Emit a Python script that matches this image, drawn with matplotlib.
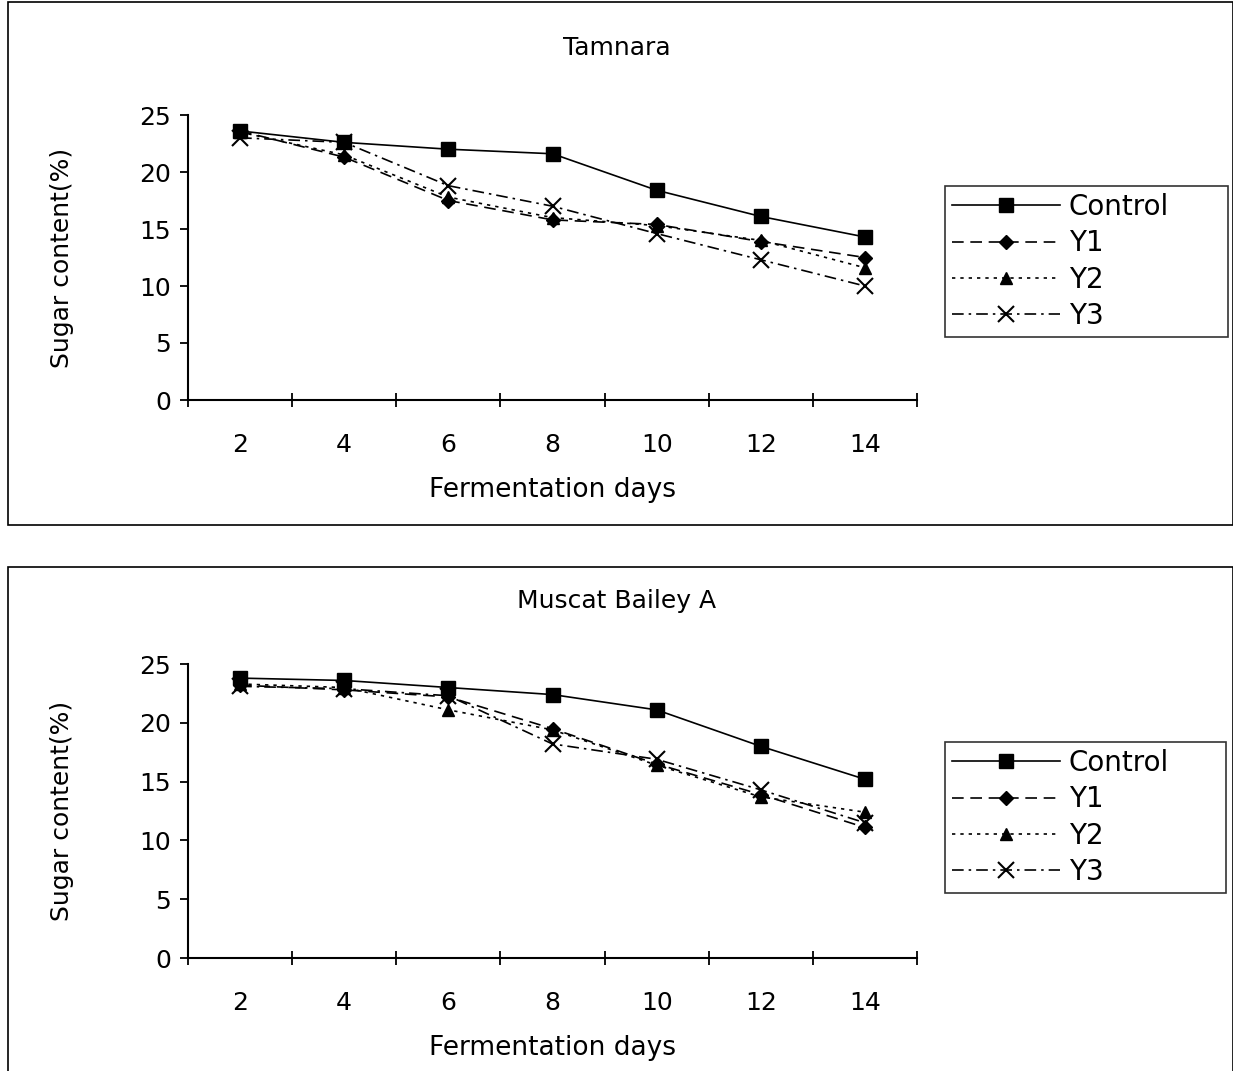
import numpy as np
import matplotlib.pyplot as plt
from matplotlib.patches import Rectangle

plt.rcParams['font.family'] = ['DejaVu Sans']

# data
days = [2, 4, 6, 8, 10, 12, 14]
series_names = ["Control", "Y1", "Y2", "Y3"]

tamnara_control = [23.6, 22.6, 22.0, 21.6, 18.4, 16.1, 14.3]
tamnara_y1 = [23.6, 21.3, 17.5, 15.8, 15.4, 13.9, 12.5]
tamnara_y2 = [23.5, 21.5, 17.8, 16.0, 15.3, 14.0, 11.6]
tamnara_y3 = [23.0, 22.6, 18.8, 17.0, 14.6, 12.3, 10.0]

mba_control = [23.8, 23.6, 23.0, 22.4, 21.1, 18.0, 15.2]
mba_y1 = [23.2, 22.8, 22.2, 19.5, 16.5, 13.9, 11.1]
mba_y2 = [23.3, 23.0, 21.1, 19.4, 16.4, 13.7, 12.4]
mba_y3 = [23.1, 22.9, 22.3, 18.2, 16.9, 14.3, 11.5]

styles = [
    dict(ls="-", marker="s", ms=10),
    dict(ls=(0, (7, 4)), marker="D", ms=7),
    dict(ls=(0, (2, 3)), marker="^", ms=9),
    dict(ls=(0, (7, 3, 1.5, 3)), marker="x", ms=11, mew=1.5),
]

W, H = 1233, 1071
fig = plt.figure(figsize=(W / 100, H / 100), dpi=100)


def px_axes(left, top, right, bottom):
    return fig.add_axes([left / W, 1 - bottom / H, (right - left) / W, (bottom - top) / H])


def panel(ax, title, data, title_y, leg_px):
    x = np.arange(len(days))
    for vals, name, st in zip(data, series_names, styles):
        ax.plot(x, vals, color="black", lw=1.2, label=name, **st)
    ax.set_xlim(-0.5, len(days) - 0.5)
    ax.set_ylim(0, 25)
    ax.set_yticks([0, 5, 10, 15, 20, 25])
    ax.set_xticks(np.arange(len(days) + 1) - 0.5)
    ax.set_xticklabels([])
    ax.set_xticks(x, minor=True)
    ax.set_xticklabels([str(d) for d in days], minor=True)
    ax.tick_params(axis="x", which="minor", length=0, pad=24, labelsize=18)
    ax.tick_params(axis="x", which="major", direction="inout", length=10, width=1.3)
    ax.tick_params(axis="y", direction="out", length=6, width=1.3, pad=6, labelsize=18)
    for s in ["top", "right"]:
        ax.spines[s].set_visible(False)
    for s in ["left", "bottom"]:
        ax.spines[s].set_linewidth(1.5)
    ax.set_xlabel("Fermentation days", fontsize=19, labelpad=14)
    ax.set_ylabel("Sugar content(%)", fontsize=18)
    ax.yaxis.set_label_coords((74 - 188) / 729, 0.5)
    fig.text(617 / W, 1 - title_y / H, title, ha="center", va="center", fontsize=18)
    l, t, r, b = leg_px
    leg = ax.legend(loc="upper left", bbox_to_anchor=(l / W, 1 - b / H, (r - l) / W, (b - t) / H),
                    bbox_transform=fig.transFigure, mode="expand", borderaxespad=0,
                    frameon=True, fancybox=False, edgecolor="black", fontsize=20,
                    handlelength=3.9, borderpad=0.25, labelspacing=0.3, handletextpad=0.3)
    leg.get_frame().set_linewidth(1.2)


ax1 = px_axes(188, 115, 917, 400)
panel(ax1, "Tamnara", [tamnara_control, tamnara_y1, tamnara_y2, tamnara_y3],
      48, (945, 186, 1228, 340))

ax2 = px_axes(188, 664, 917, 958)
panel(ax2, "Muscat Bailey A", [mba_control, mba_y1, mba_y2, mba_y3],
      601, (945, 742, 1226, 890))

# panel frames
fig.patches.append(Rectangle((8 / W, 1 - 525 / H), (W - 8) / W, 523 / H, transform=fig.transFigure,
                             fill=False, edgecolor="black", lw=1.2))
fig.patches.append(Rectangle((8 / W, -0.01), (W - 8) / W, 1 - 567 / H + 0.01, transform=fig.transFigure,
                             fill=False, edgecolor="black", lw=1.2))

fig.savefig("out.png", dpi=100)
